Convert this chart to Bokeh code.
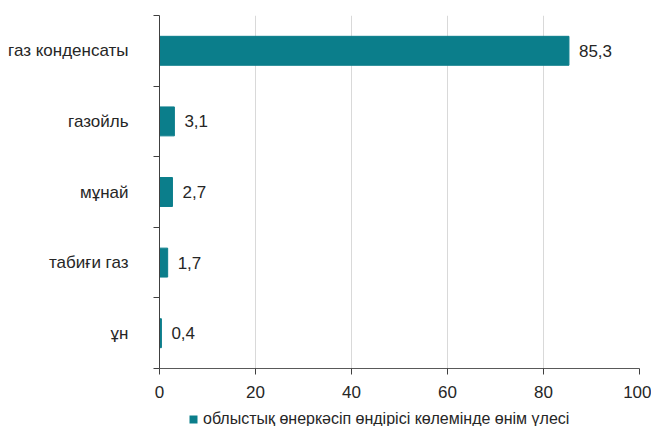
from bokeh.plotting import figure
from bokeh.models import (Range1d, FixedTicker, LabelSet, ColumnDataSource,
                          Legend, LegendItem)
from bokeh.layouts import column
from bokeh.core.properties import value
from bokeh.embed import file_html
from bokeh.resources import INLINE

categories = ["газ конденсаты", "газойль", "мұнай", "табиғи газ", "ұн"]
values = [85.3, 3.1, 2.7, 1.7, 0.4]
series_name = "облыстық өнеркәсіп өндірісі көлемінде өнім үлесі"
x_ticks = [0, 20, 40, 60, 80, 100]

n = len(categories)
ys = [n - i - 0.5 for i in range(n)]
labels = [f"{v:.1f}".replace(".", ",") for v in values]

BAR = "#0b7e8b"
TXT = "#262626"
FONT = "Liberation Sans"

src = ColumnDataSource(dict(y=ys, v=values, cat=categories, lab=labels))

p = figure(frame_width=480, frame_height=353, output_backend="svg",
           toolbar_location=None,
           x_range=Range1d(0, 100), y_range=Range1d(0, n),
           min_border_left=159, min_border_right=12,
           min_border_top=15, min_border_bottom=40)
p.outline_line_color = None

bars = p.hbar(y="y", right="v", left=0, height=0.41, color=BAR, source=src)

xa = p.xaxis[0]
xa.ticker = FixedTicker(ticks=x_ticks)
xa.major_tick_out = 6
xa.major_tick_in = 0
xa.axis_line_color = "#595959"
xa.major_tick_line_color = "#404040"
xa.major_label_text_font = FONT
xa.major_label_text_font_size = "17px"
xa.major_label_text_color = TXT
xa.major_label_standoff = 11

ya = p.yaxis[0]
ya.ticker = FixedTicker(ticks=ys, minor_ticks=list(range(n + 1)))
ya.major_label_overrides = {y: c for y, c in zip(ys, categories)}
ya.major_tick_out = 0
ya.major_tick_in = 0
ya.minor_tick_out = 6
ya.minor_tick_in = 0
ya.major_label_standoff = 25
ya.minor_tick_line_color = "#404040"
ya.axis_line_color = "#404040"
ya.major_label_text_font = FONT
ya.major_label_text_font_size = "17px"
ya.major_label_text_color = TXT

p.xgrid.grid_line_color = "#d9d9d9"
p.xgrid.ticker = FixedTicker(ticks=x_ticks[1:])
p.ygrid.grid_line_color = None

p.add_layout(LabelSet(x="v", y="y", text="lab", source=src, x_offset=10,
                      text_align="left", text_baseline="middle",
                      text_font=value(FONT), text_font_size="17px",
                      text_color=TXT))

# legend strip under the chart (its frame is aligned with the chart frame)
lf = figure(width=651, height=20, output_backend="svg", toolbar_location=None,
            x_axis_location=None, y_axis_location=None,
            min_border_left=159, min_border_right=12,
            min_border_top=0, min_border_bottom=0,
            x_range=Range1d(0, 1), y_range=Range1d(0, 1))
lf.outline_line_color = None
lf.grid.visible = False
swatch = lf.hbar(y=[0.5], right=[0], left=0, height=0.4,
                 fill_color=BAR, line_color=None)
lg = Legend(items=[LegendItem(label=series_name, renderers=[swatch])],
            location=(29, 0), orientation="horizontal",
            glyph_width=10, glyph_height=10, label_height=16,
            padding=0, margin=0, label_standoff=5,
            border_line_color=None, background_fill_alpha=0,
            label_text_font=FONT, label_text_font_size="16px",
            label_text_color=TXT)
lf.add_layout(lg)

layout = column(p, lf, spacing=0)
open("out.html", "w").write(file_html(layout, INLINE))
